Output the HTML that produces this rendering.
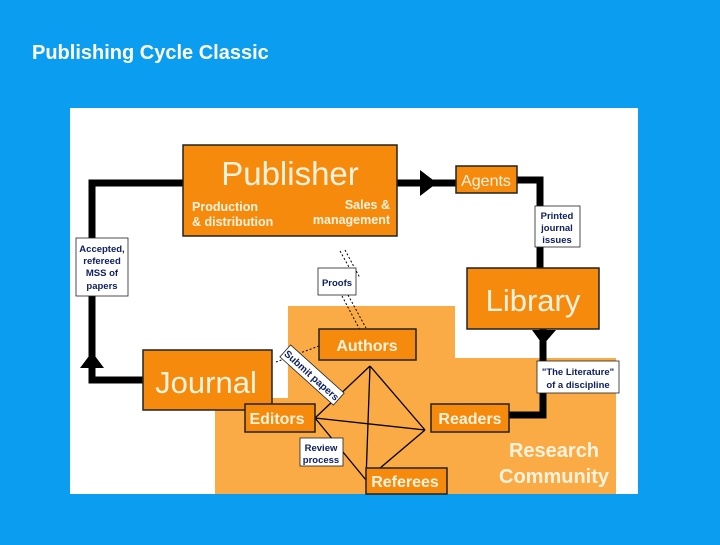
<!DOCTYPE html>
<html><head><meta charset="utf-8"><style>
body{margin:0;background:#0b9ef0;width:720px;height:540px;overflow:hidden;font-family:"Liberation Sans",sans-serif}
</style></head><body>
<svg width="720" height="540" xmlns="http://www.w3.org/2000/svg" font-family="Liberation Sans, sans-serif">
<rect width="720" height="540" fill="#0b9ef0"/>
<text x="32" y="59" font-size="20" font-weight="bold" fill="#fff">Publishing Cycle Classic</text>
<rect x="70" y="108" width="568" height="386" fill="#fff"/>
<polygon points="288,306 455,306 455,358 616,358 616,494 215,494 215,398 288,398" fill="#fbab45"/>
<!-- loop lines -->
<g stroke="#000" stroke-width="7" fill="none">
<polyline points="183,183 92,183 92,380 143,380"/>
<polyline points="397,183 456,183"/>
<polyline points="517,180 540,180 540,268"/>
<polyline points="543,329 543,415 509,415"/>
</g>
<polygon points="80,368 104,368 92,352" fill="#000"/>
<polygon points="420,170 420,196 437,183" fill="#000"/>
<polygon points="532,330 556,330 543,345" fill="#000"/>
<!-- diamond -->
<g stroke="#000" stroke-width="1.3">
<line x1="370" y1="366" x2="315" y2="418"/>
<line x1="370" y1="366" x2="425" y2="430"/>
<line x1="315" y1="418" x2="366" y2="480"/>
<line x1="425" y1="430" x2="366" y2="480"/>
<line x1="315" y1="418" x2="425" y2="430"/>
<line x1="370" y1="366" x2="366" y2="480"/>
</g>
<g stroke="#000" stroke-width="1" stroke-dasharray="2,2">
<line x1="340" y1="251" x2="354" y2="276"/><line x1="345" y1="250" x2="360" y2="278"/>
<line x1="342" y1="296" x2="360" y2="330"/><line x1="348" y1="295" x2="366" y2="328"/>
<line x1="319" y1="346" x2="276" y2="362"/>
</g>
<g fill="#f58a0d" stroke="#222" stroke-width="1.5">
<rect x="183" y="145" width="214" height="91"/>
<rect x="456" y="166" width="61" height="27"/>
<rect x="467" y="268" width="132" height="61"/>
<rect x="319" y="329" width="97" height="31"/>
<rect x="143" y="350" width="129" height="60"/>
<rect x="245" y="404" width="70" height="28"/>
<rect x="431" y="404" width="78" height="28"/>
<rect x="366" y="468" width="81" height="26"/>
</g>
<g fill="#fff" stroke="#222" stroke-width="0.8">
<rect x="76" y="238" width="52" height="58"/>
<rect x="318" y="268" width="38" height="27"/>
<rect x="535" y="206" width="45" height="41"/>
<rect x="537" y="361" width="82" height="32"/>
<rect x="300" y="438" width="43" height="28"/>
</g>
<g fill="#fff3dd">
<text x="290" y="185" font-size="33" text-anchor="middle">Publisher</text>
<text x="192" y="211" font-size="12.5" font-weight="bold">Production</text>
<text x="192" y="226" font-size="12.5" font-weight="bold">&amp; distribution</text>
<text x="390" y="209" font-size="12.5" font-weight="bold" text-anchor="end">Sales &amp;</text>
<text x="390" y="224" font-size="12.5" font-weight="bold" text-anchor="end">management</text>
<text x="486" y="186" font-size="16" text-anchor="middle">Agents</text>
<text x="533" y="311" font-size="31" text-anchor="middle">Library</text>
<text x="367" y="351" font-size="16" font-weight="bold" text-anchor="middle">Authors</text>
<text x="206" y="393" font-size="31" text-anchor="middle">Journal</text>
<text x="277" y="424" font-size="16" font-weight="bold" text-anchor="middle">Editors</text>
<text x="470" y="424" font-size="16" font-weight="bold" text-anchor="middle">Readers</text>
<text x="405" y="487" font-size="16" font-weight="bold" text-anchor="middle">Referees</text>
<text x="554" y="457" font-size="20" font-weight="bold" text-anchor="middle">Research</text>
<text x="554" y="483" font-size="20" font-weight="bold" text-anchor="middle">Community</text>
</g>
<g fill="#102060" font-size="9.5" font-weight="bold" text-anchor="middle">
<text x="102" y="252">Accepted,</text><text x="102" y="264">refereed</text><text x="102" y="276">MSS of</text><text x="102" y="289">papers</text>
<text x="337" y="286">Proofs</text>
<text x="557" y="219">Printed</text><text x="557" y="231">journal</text><text x="557" y="243">issues</text>
<text x="578" y="375">"The Literature"</text><text x="578" y="388">of a discipline</text>
<text x="321" y="451">Review</text><text x="321" y="463">process</text>
</g>
<g transform="translate(312,375) rotate(42)">
<rect x="-36" y="-8" width="72" height="16" fill="#fff" stroke="#222" stroke-width="0.8"/>
<text x="0" y="4" font-size="10" font-weight="bold" fill="#102060" text-anchor="middle">Submit papers</text>
</g>
</svg>
</body></html>
